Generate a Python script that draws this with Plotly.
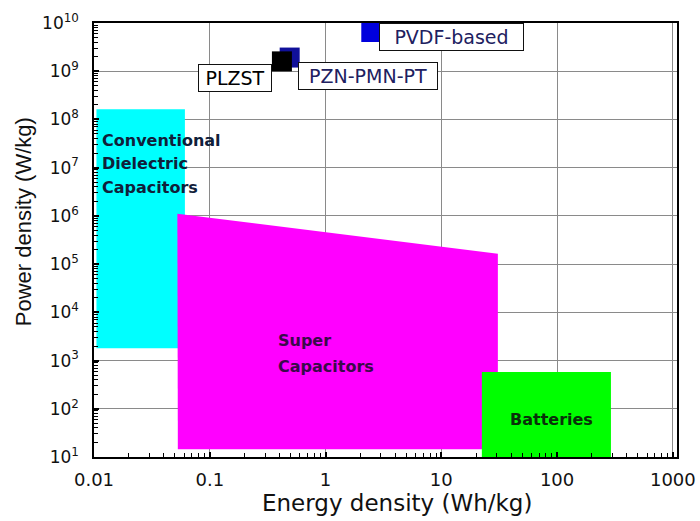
import numpy as np
import plotly.graph_objects as go

# Ragone-style regions (energy density Wh/kg, power density W/kg)
cdc_energy = [0.0105, 0.061, 0.061, 0.0105]
cdc_power = [1.8e3, 1.8e3, 1.62e8, 1.62e8]

supercap_energy = [0.053, 0.0525, 30.8, 30.8]
supercap_power = [14.4, 1.11e6, 1.64e5, 14.4]

battery_energy = [22.4, 292, 292, 22.4]
battery_power = [10, 10, 578, 578]

# Individual materials
material_names = ["PZN-PMN-PT", "PLZST", "PVDF-based"]
material_energy = [0.49, 0.42, 2.46]
material_power = [1.92e9, 1.6e9, 6.35e9]
material_colors = ["#10109a", "#000000", "#0000dd"]
material_sizes = [20, 20, 19]

# Material label boxes (top-left corner in data units)
label_energy = [0.576, 0.0792, 2.89]
label_power = [1.55e9, 1.39e9, 9.86e9]
label_widths = [134, 68, 139]
label_colors = ["#202060", "#000000", "#202060"]

# Region captions
region_lines = ["Conventional", "Dielectric", "Capacitors", "Super", "Capacitors", "Batteries"]
region_energy = [0.0112, 0.0112, 0.0112, 0.372, 0.372, 90.4]
region_power = [3.74e7, 1.22e7, 3.96e6, 2650, 766, 60.8]
region_anchor = ["left", "left", "left", "left", "left", "center"]
region_colors = ["#10203a", "#10203a", "#10203a", "#3a0a4a", "#3a0a4a", "#0a300a"]

x_tickvals = [0.01, 0.1, 1, 10, 100, 1000]
x_ticktext = ["0.01", "0.1", "1", "10", "100", "1000"]
y_tickvals = [1e1, 1e2, 1e3, 1e4, 1e5, 1e6, 1e7, 1e8, 1e9, 1e10]
y_ticktext = [f"10<sup>{k}</sup>" for k in range(1, 11)]

fig = go.Figure()

fig.add_trace(go.Scatter(x=cdc_energy, y=cdc_power, fill="toself", mode="none",
                         fillcolor="#00ffff", hoverinfo="skip", showlegend=False))
fig.add_trace(go.Scatter(x=supercap_energy, y=supercap_power, fill="toself", mode="none",
                         fillcolor="#ff00ff", hoverinfo="skip", showlegend=False))
fig.add_trace(go.Scatter(x=battery_energy, y=battery_power, fill="toself", mode="none",
                         fillcolor="#00ff00", hoverinfo="skip", showlegend=False))

for name, ex, pw, col, sz in zip(material_names, material_energy, material_power,
                                 material_colors, material_sizes):
    fig.add_trace(go.Scatter(x=[ex], y=[pw], mode="markers", name=name,
                             marker=dict(symbol="square", size=sz, color=col,
                                         line=dict(width=0)),
                             showlegend=False))

annotations = []
for name, ex, pw, w, col in zip(material_names, label_energy, label_power,
                                label_widths, label_colors):
    annotations.append(dict(
        x=np.log10(ex), y=np.log10(pw), xref="x", yref="y",
        xanchor="left", yanchor="top", text=name, showarrow=False,
        font=dict(family="DejaVu Sans", size=19, color=col),
        bgcolor="white", bordercolor="#111111", borderwidth=1, borderpad=2,
        width=w, align="center"))

for txt, ex, pw, anc, col in zip(region_lines, region_energy, region_power,
                                 region_anchor, region_colors):
    annotations.append(dict(
        x=np.log10(ex), y=np.log10(pw), xref="x", yref="y",
        xanchor=anc, yanchor="middle", text=f"<b>{txt}</b>", showarrow=False,
        font=dict(family="DejaVu Sans", size=16, color=col)))

annotations.append(dict(
    x=0.5203, y=-0.106, xref="paper", yref="paper", xanchor="center", yanchor="middle",
    text="Energy density (Wh/kg)", showarrow=False,
    font=dict(family="DejaVu Sans", size=23, color="#111111")))
annotations.append(dict(
    x=-0.1206, y=0.5426, xref="paper", yref="paper", xanchor="center", yanchor="middle",
    text="Power density (W/kg)", showarrow=False, textangle=-90,
    font=dict(family="Liberation Sans", size=22, color="#111111")))

axis_common = dict(
    showline=True, linecolor="black", linewidth=1.5, mirror=True,
    showgrid=True, gridcolor="#8a8a8a", gridwidth=1, zeroline=False,
    ticks="inside", ticklen=5, tickcolor="black", tickwidth=1.5,
    minor=dict(ticks="inside", ticklen=4, tickcolor="black", tickwidth=1,
               showgrid=False, dtick="D1"),
    automargin=False,
)

fig.update_layout(
    width=700, height=521,
    margin=dict(l=94, r=23, t=23, b=64, autoexpand=False),
    paper_bgcolor="white", plot_bgcolor="white",
    xaxis=dict(type="log", range=[-2, 3.036], tickvals=x_tickvals, ticktext=x_ticktext,
               tickfont=dict(family="DejaVu Sans", size=18, color="#111111"),
               ticklabelstandoff=6, **axis_common),
    yaxis=dict(type="log", range=[1, 10], tickvals=y_tickvals, ticktext=y_ticktext,
               tickfont=dict(family="DejaVu Sans", size=17, color="#111111"),
               ticklabelstandoff=10, **axis_common),
    annotations=annotations,
)

fig.write_html("out.html")
